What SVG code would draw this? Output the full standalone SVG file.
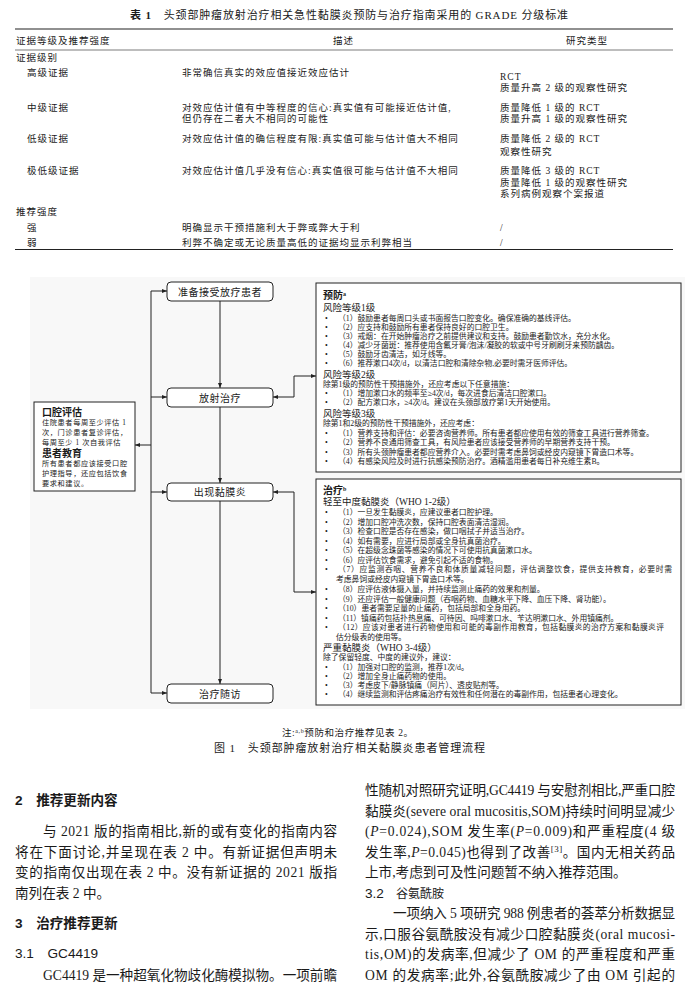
<svg xmlns="http://www.w3.org/2000/svg" width="688" height="1005" viewBox="0 0 688 1005">
<defs>
<marker id="ah" viewBox="0 0 10 10" refX="10" refY="5" markerWidth="5" markerHeight="5" orient="auto-start-reverse"><path d="M0,1 L10,5 L0,9 z" fill="#222"/></marker>
<style>
text{fill:#1a1a1a}
.tab{font-family:"Liberation Serif","Noto Sans CJK SC",serif;font-size:9.5px;letter-spacing:1px}
.ln{stroke:#222;fill:none}
.node rect{fill:#fff;stroke:#222;stroke-width:1}
.lbl{font-family:"Liberation Serif","Noto Sans CJK SC",serif;font-size:10px;letter-spacing:0.5px;text-anchor:middle}
.sm{font-family:"Liberation Serif","Noto Sans CJK SC",serif;font-size:7.8px}
.lb{font-family:"Liberation Serif","Noto Sans CJK SC",serif;font-size:7.2px;letter-spacing:0.6px}
.hd{font-family:"Liberation Serif","Noto Sans CJK SC",serif;font-size:9.5px}
.bh{font-family:"Liberation Serif","Noto Sans CJK SC",serif;font-size:10px;font-weight:bold}
.body{font-family:"Liberation Serif","Noto Sans CJK SC",serif;font-size:13.6px}
.h2{font-family:"Liberation Sans","Noto Sans CJK SC",sans-serif;font-size:13.6px;font-weight:bold}
.h3{font-family:"Liberation Sans","Noto Sans CJK SC",sans-serif;font-size:13.6px}
.cap{font-family:"Liberation Serif","Noto Sans CJK SC",serif}
.conn path{fill:none;stroke:#222;stroke-width:1}
</style>
</defs>
<rect width="688" height="1005" fill="#fff"/>

<!-- Table 1 -->
<g id="table1">
<text class="cap" x="130" y="19" font-size="11" textLength="438" lengthAdjust="spacing"><tspan font-weight="bold">表 1</tspan>　头颈部肿瘤放射治疗相关急性黏膜炎预防与治疗指南采用的 GRADE 分级标准</text>
<line class="ln" x1="15" y1="29" x2="673" y2="29" stroke-width="1.2"/>
<text class="tab" x="16" y="44">证据等级及推荐强度</text>
<text class="tab" x="333" y="44">描述</text>
<text class="tab" x="566" y="44">研究类型</text>
<line class="ln" x1="15" y1="50" x2="673" y2="50" stroke-width="0.6"/>
<text class="tab" x="16" y="61">证据级别</text>
<text class="tab" x="27" y="76">高级证据</text>
<text class="tab" x="182" y="76">非常确信真实的效应值接近效应估计</text>
<text class="tab" x="500" y="80">RCT</text>
<text class="tab" x="500" y="91">质量升高 2 级的观察性研究</text>
<text class="tab" x="27" y="110.5">中级证据</text>
<text class="tab" x="182" y="110.5">对效应估计值有中等程度的信心:真实值有可能接近估计值,</text>
<text class="tab" x="182" y="121.5">但仍存在二者大不相同的可能性</text>
<text class="tab" x="500" y="110.5">质量降低 1 级的 RCT</text>
<text class="tab" x="500" y="121.5">质量升高 1 级的观察性研究</text>
<text class="tab" x="27" y="141.5">低级证据</text>
<text class="tab" x="182" y="141.5">对效应估计值的确信程度有限:真实值可能与估计值大不相同</text>
<text class="tab" x="500" y="141.5">质量降低 2 级的 RCT</text>
<text class="tab" x="500" y="154.5">观察性研究</text>
<text class="tab" x="27" y="173.5">极低级证据</text>
<text class="tab" x="182" y="173.5">对效应估计值几乎没有信心:真实值很可能与估计值不大相同</text>
<text class="tab" x="500" y="173.5">质量降低 3 级的 RCT</text>
<text class="tab" x="500" y="185.5">质量降低 1 级的观察性研究</text>
<text class="tab" x="500" y="196.5">系列病例观察个案报道</text>
<text class="tab" x="16" y="214.5">推荐强度</text>
<text class="tab" x="27" y="230.5">强</text>
<text class="tab" x="182" y="230.5">明确显示干预措施利大于弊或弊大于利</text>
<text class="tab" x="500" y="230.5">/</text>
<text class="tab" x="27" y="245.5">弱</text>
<text class="tab" x="182" y="245.5">利弊不确定或无论质量高低的证据均显示利弊相当</text>
<text class="tab" x="500" y="245.5">/</text>
<line class="ln" x1="15" y1="249.5" x2="673" y2="249.5" stroke-width="1.2"/>
</g>

<!-- Figure 1 background -->
<rect x="30" y="277" width="655" height="432" fill="#f8f8f8"/>

<!-- Connectors -->
<g id="connectors" class="conn">
<path d="M220,301 V388" marker-end="url(#ah)"/>
<path d="M220,407 V483" marker-end="url(#ah)"/>
<path d="M220,501 V684" marker-end="url(#ah)"/>
<path d="M151,291 V693"/>
<path d="M151,291 H167" marker-end="url(#ah)"/>
<path d="M151,397 H167" marker-end="url(#ah)"/>
<path d="M151,492 H167" marker-end="url(#ah)"/>
<path d="M151,693 H167" marker-end="url(#ah)"/>
<path d="M151,445 H135" marker-end="url(#ah)"/>
<path d="M316,376 H294 V397 H273" marker-start="url(#ah)" marker-end="url(#ah)"/>
<path d="M316,592 H294 V492 H273" marker-start="url(#ah)" marker-end="url(#ah)"/>
</g>

<!-- Nodes -->
<g id="n-prepare" class="node">
<rect x="167" y="282" width="106" height="19" rx="4"/>
<text class="lbl" x="220" y="295.5">准备接受放疗患者</text>
</g>
<g id="n-radiotherapy" class="node">
<rect x="167" y="388" width="106" height="19" rx="4"/>
<text class="lbl" x="220" y="401.5">放射治疗</text>
</g>
<g id="n-mucositis" class="node">
<rect x="167" y="483" width="106" height="18" rx="4"/>
<text class="lbl" x="220" y="496">出现黏膜炎</text>
</g>
<g id="n-followup" class="node">
<rect x="167" y="684" width="106" height="19" rx="4"/>
<text class="lbl" x="220" y="697.5">治疗随访</text>
</g>

<g id="n-assess" class="node">
<rect x="34" y="402" width="101" height="89"/>
<text class="bh" x="42" y="416">口腔评估</text>
<text class="lb" x="42" y="425">住院患者每周至少评估 1</text>
<text class="lb" x="42" y="435">次，门诊患者复诊评估，</text>
<text class="lb" x="42" y="445">每周至少 1 次自我评估</text>
<text class="bh" x="42" y="457">患者教育</text>
<text class="lb" x="42" y="466">所有患者都应该接受口腔</text>
<text class="lb" x="42" y="476">护理指导，还应包括饮食</text>
<text class="lb" x="42" y="486">要求和建议。</text>
</g>

<g id="n-prevention" class="node">
<rect x="316" y="283" width="365" height="189"/>
<text class="bh" x="323" y="298.5">预防<tspan font-size="6" dy="-3">a</tspan></text>
<text class="hd" x="323" y="311">风险等级1级</text>
<g class="sm">
<text x="325" y="320.5">•</text><text x="338" y="320.5">（1）鼓励患者每周口头或书面报告口腔变化。确保准确的基线评估。</text>
<text x="325" y="329.5">•</text><text x="338" y="329.5">（2）应支持和鼓励所有患者保持良好的口腔卫生。</text>
<text x="325" y="338.5">•</text><text x="338" y="338.5">（3）戒烟：在开始肿瘤治疗之前提供建议和支持。鼓励患者勤饮水，充分水化。</text>
<text x="325" y="347.5">•</text><text x="338" y="347.5">（4）减少牙菌斑：推荐使用含氟牙膏/泡沫/凝胶的软或中号牙刷刷牙来预防龋齿。</text>
<text x="325" y="356.5">•</text><text x="338" y="356.5">（5）鼓励牙齿清洁，如牙线等。</text>
<text x="325" y="365.5">•</text><text x="338" y="365.5">（6）推荐漱口4次/d，以清洁口腔和清除杂物,必要时需牙医师评估。</text>
</g>
<text class="hd" x="323" y="378">风险等级2级</text>
<g class="sm">
<text x="323" y="387">除第1级的预防性干预措施外，还应考虑以下任意措施：</text>
<text x="325" y="396">•</text><text x="338" y="396">（1）增加漱口水的频率至≥4次/d，每次进食后清洁口腔漱口。</text>
<text x="325" y="405">•</text><text x="338" y="405">（2）配方漱口水，≥4次/d。建议在头颈部放疗第1天开始使用。</text>
</g>
<text class="hd" x="323" y="417">风险等级3级</text>
<g class="sm">
<text x="323" y="426">除第1和2级的预防性干预措施外，还应考虑：</text>
<text x="325" y="435.5">•</text><text x="338" y="435.5">（1）营养支持和评估：必要咨询营养师。所有患者都应使用有效的筛查工具进行营养筛查。</text>
<text x="325" y="445">•</text><text x="338" y="445">（2）营养不良通用筛查工具，有风险患者应该接受营养师的早期营养支持干预。</text>
<text x="325" y="454.5">•</text><text x="338" y="454.5">（3）所有头颈肿瘤患者都应营养介入。必要时需考虑鼻饲或经皮内窥镜下胃造口术等。</text>
<text x="325" y="464">•</text><text x="338" y="464">（4）有感染风险及时进行抗感染预防治疗。酒精滥用患者每日补充维生素B。</text>
</g>
</g>

<g id="n-treatment" class="node">
<rect x="316" y="479" width="365" height="226"/>
<text class="bh" x="323" y="494">治疗<tspan font-size="6" dy="-3">b</tspan></text>
<text class="hd" x="323" y="505">轻至中度黏膜炎（WHO 1-2级）</text>
<g class="sm">
<text x="325" y="515">•</text><text x="338" y="515">（1）一旦发生黏膜炎，应建议患者口腔护理。</text>
<text x="325" y="524.5">•</text><text x="338" y="524.5">（2）增加口腔冲洗次数，保持口腔表面清洁湿润。</text>
<text x="325" y="534">•</text><text x="338" y="534">（3）检查口腔是否存在感染，做口咽拭子并适当治疗。</text>
<text x="325" y="543.5">•</text><text x="338" y="543.5">（4）如有需要，应进行局部或全身抗真菌治疗。</text>
<text x="325" y="553">•</text><text x="338" y="553">（5）在超级念珠菌等感染的情况下可使用抗真菌漱口水。</text>
<text x="325" y="562.5">•</text><text x="338" y="562.5">（6）应评估饮食需求，避免引起不适的食物。</text>
<text x="325" y="572">•</text><text x="338" y="572" textLength="334" lengthAdjust="spacing">（7）应监测吞咽、营养不良和体质量减轻问题，评估调整饮食，提供支持教育，必要时需</text>
<text x="336" y="582">考虑鼻饲或经皮内窥镜下胃造口术等。</text>
<text x="325" y="592">•</text><text x="338" y="592">（8）应评估液体摄入量，并持续监测止痛药的效果和剂量。</text>
<text x="325" y="601.5">•</text><text x="338" y="601.5">（9）还应评估一般健康问题（吞咽药物、血糖水平下降、血压下降、肾功能）。</text>
<text x="325" y="611">•</text><text x="338" y="611">（10）患者需要足量的止痛药，包括局部和全身用药。</text>
<text x="325" y="620.5">•</text><text x="338" y="620.5">（11）镇痛药包括扑热息痛、可待因、吗啡漱口水、苄达明漱口水、外用镇痛剂。</text>
<text x="325" y="630">•</text><text x="338" y="630" textLength="326" lengthAdjust="spacing">（12）应该对患者进行药物使用和可能的毒副作用教育，包括黏膜炎的治疗方案和黏膜炎评</text>
<text x="336" y="639.5">估分级表的使用等。</text>
</g>
<text class="hd" x="323" y="650.5">严重黏膜炎（WHO 3-4级）</text>
<g class="sm">
<text x="323" y="660">除了保留轻度、中度的建议外，建议：</text>
<text x="325" y="669.5">•</text><text x="338" y="669.5">（1）加强对口腔的监测，推荐1次/d。</text>
<text x="325" y="678.5">•</text><text x="338" y="678.5">（2）增加全身止痛药物的使用。</text>
<text x="325" y="687.5">•</text><text x="338" y="687.5">（3）考虑皮下/静脉镇痛（阿片）、透皮贴剂等。</text>
<text x="325" y="696.5">•</text><text x="338" y="696.5">（4）继续监测和评估疼痛治疗有效性和任何潜在的毒副作用，包括患者心理变化。</text>
</g>
</g>

<!-- Figure notes -->
<text class="cap" x="282" y="735.5" font-size="9.5" letter-spacing="0.6">注:<tspan font-size="6" dy="-3">a,b</tspan><tspan dy="3">预防和治疗推荐见表 2。</tspan></text>
<text class="cap" x="214" y="752" font-size="11" textLength="271" lengthAdjust="spacing">图 1　头颈部肿瘤放射治疗相关黏膜炎患者管理流程</text>

<!-- Body text left column -->
<text class="h2" x="15" y="805">2　推荐更新内容</text>
<text class="body" x="43" y="836" textLength="294" lengthAdjust="spacing">与 2021 版的指南相比,新的或有变化的指南内容</text>
<text class="body" x="15" y="856.5" textLength="322" lengthAdjust="spacing">将在下面讨论,并呈现在表 2 中。有新证据但声明未</text>
<text class="body" x="15" y="877" textLength="322" lengthAdjust="spacing">变的指南仅出现在表 2 中。没有新证据的 2021 版指</text>
<text class="body" x="15" y="897.5">南列在表 2 中。</text>
<text class="h2" x="15" y="928">3　治疗推荐更新</text>
<text class="h3" x="15" y="958">3.1　GC4419</text>
<text class="body" x="43" y="979.5" textLength="294" lengthAdjust="spacing">GC4419 是一种超氧化物歧化酶模拟物。一项前瞻</text>

<!-- Body text right column -->
<text class="body" x="365" y="795" textLength="310" lengthAdjust="spacing">性随机对照研究证明,GC4419 与安慰剂相比,严重口腔</text>
<text class="body" x="365" y="815.5" textLength="310" lengthAdjust="spacing">黏膜炎(severe oral mucositis,SOM)持续时间明显减少</text>
<text class="body" x="365" y="836" textLength="310" lengthAdjust="spacing">(<tspan font-style="italic">P</tspan>=0.024),SOM 发生率(<tspan font-style="italic">P</tspan>=0.009)和严重程度(4 级</text>
<text class="body" x="365" y="856.5" textLength="310" lengthAdjust="spacing">发生率,<tspan font-style="italic">P</tspan>=0.045)也得到了改善<tspan font-size="9" dy="-5">[3]</tspan><tspan dy="5">。国内无相关药品</tspan></text>
<text class="body" x="365" y="877">上市,考虑到可及性问题暂不纳入推荐范围。</text>
<text class="h3" x="365" y="897.5">3.2<tspan class="cap" font-size="12">　谷氨酰胺</tspan></text>
<text class="body" x="393" y="918" textLength="282" lengthAdjust="spacing">一项纳入 5 项研究 988 例患者的荟萃分析数据显</text>
<text class="body" x="365" y="938.5" textLength="310" lengthAdjust="spacing">示,口服谷氨酰胺没有减少口腔黏膜炎(oral mucosi-</text>
<text class="body" x="365" y="959" textLength="310" lengthAdjust="spacing">tis,OM)的发病率,但减少了 OM 的严重程度和严重</text>
<text class="body" x="365" y="979.5" textLength="310" lengthAdjust="spacing">OM 的发病率;此外,谷氨酰胺减少了由 OM 引起的</text>
</svg>
